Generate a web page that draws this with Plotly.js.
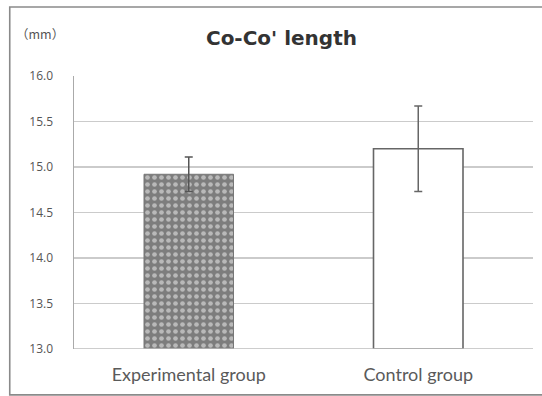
<!DOCTYPE html>
<html>
<head>
<meta charset="utf-8">
<script src="https://cdn.plot.ly/plotly-3.0.1.min.js"></script>
<style>
html,body{margin:0;padding:0;background:#fff;}
#chart{width:542px;height:396px;}
</style>
</head>
<body>
<div id="chart"></div>
<script>
const categories = ["Experimental group", "Control group"];
const means = [14.92, 15.20];
const sdErrors = [0.19, 0.47];
const yTickVals = [13.0, 13.5, 14.0, 14.5, 15.0, 15.5, 16.0];
const yTickText = ["13.0", "13.5", "14.0", "14.5", "15.0", "15.5", "16.0"];
const chartTitle = "Co-Co' length";
const unitLabel = "（mm）";
const axisBase = 13;

const fnt = "'Open Sans', 'Noto Sans', sans-serif";
const lblFnt = "Lato, 'Open Sans', sans-serif";

const traces = [
  {
    type: "bar",
    x: [categories[0]],
    y: [means[0] - axisBase],
    base: axisBase,
    width: 0.39,
    marker: {
      color: "#7d7d7d",
      line: {color: "#777", width: 1},
      pattern: {shape: ".", fgcolor: "#b9b9b9", bgcolor: "#7d7d7d", size: 7, solidity: 0.35}
    },
    error_y: {type: "data", array: [sdErrors[0]], visible: true, color: "#555", thickness: 1.5, width: 4},
    hoverinfo: "none"
  },
  {
    type: "bar",
    x: [categories[1]],
    y: [means[1] - axisBase],
    base: axisBase,
    width: 0.39,
    marker: {color: "#ffffff", line: {color: "#666", width: 1.6}},
    error_y: {type: "data", array: [sdErrors[1]], visible: true, color: "#666", thickness: 1.5, width: 4},
    hoverinfo: "none"
  }
];

const layout = {
  width: 542,
  height: 396,
  margin: {l: 74, r: 9, t: 76, b: 47, pad: 0},
  paper_bgcolor: "#fff",
  plot_bgcolor: "#fff",
  showlegend: false,
  barmode: "overlay",
  title: {
    text: "<b>" + chartTitle + "</b>",
    font: {family: "'DejaVu Sans', sans-serif", size: 20, color: "#333"},
    x: 0.452, xref: "paper", xanchor: "center",
    y: 40, yref: "container", yanchor: "middle"
  },
  xaxis: {
    type: "category",
    categoryorder: "array",
    categoryarray: categories,
    range: [-0.5, 1.5],
    showgrid: false,
    showline: false,
    zeroline: false,
    ticks: "",
    tickfont: {family: lblFnt, size: 18, color: "#5a5a5a"},
    ticklabelstandoff: 13
  },
  yaxis: {
    range: [13, 16],
    tickvals: yTickVals,
    ticktext: yTickText,
    showgrid: true,
    gridcolor: "#cbcbcb",
    gridwidth: 1.5,
    zeroline: false,
    showline: true,
    linecolor: "#aaa",
    linewidth: 1.5,
    ticks: "",
    tickfont: {family: fnt, size: 12, color: "#555"},
    ticklabelstandoff: 17
  },
  annotations: [
    {
      text: unitLabel, xref: "paper", yref: "paper",
      x: -0.13, y: 1.157, xanchor: "left", yanchor: "middle",
      showarrow: false, font: {family: "'Noto Sans CJK JP', sans-serif", size: 12.5, color: "#555"}
    }
  ],
  shapes: [
    {
      type: "line", xref: "paper", yref: "y", x0: 0, x1: 1, y0: 13, y1: 13,
      line: {color: "#bdbdbd", width: 1.5}, layer: "above"
    },
    {
      type: "rect", xref: "paper", yref: "paper",
      x0: -0.14, x1: 1.08, y0: -0.168, y1: 1.253,
      line: {color: "#8a8a8a", width: 1.6}, fillcolor: "rgba(0,0,0,0)"
    }
  ]
};

Plotly.newPlot("chart", traces, layout, {displayModeBar: false, staticPlot: true});
</script>
</body>
</html>
